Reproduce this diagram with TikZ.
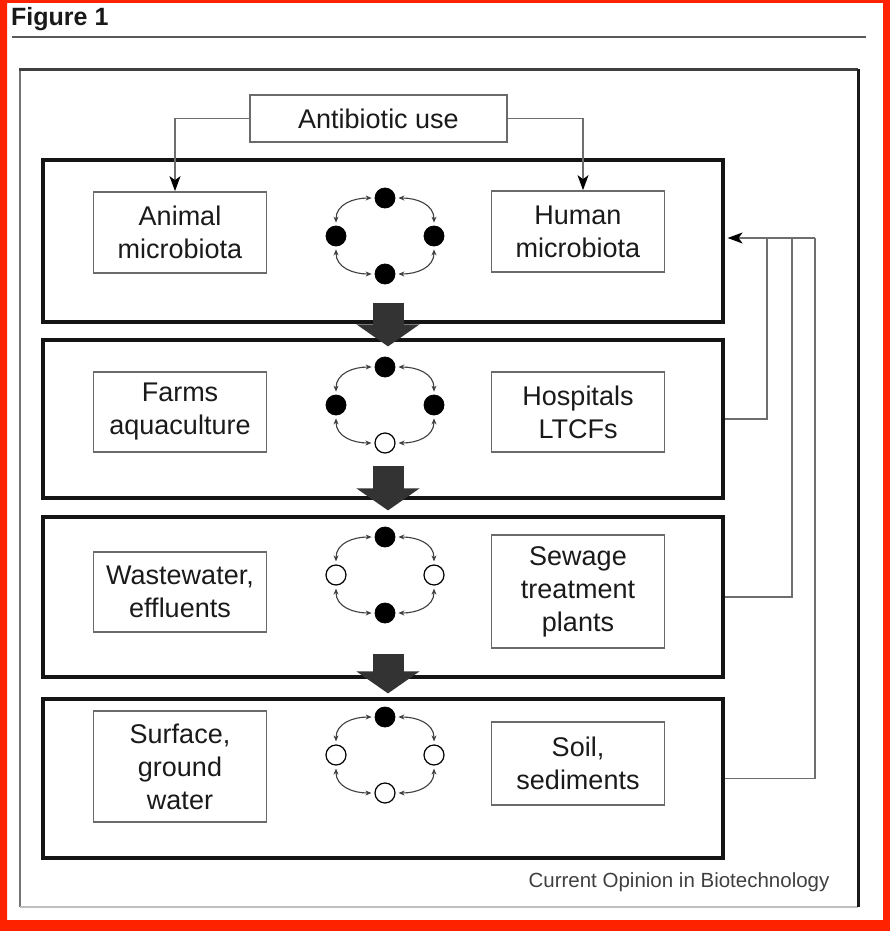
\documentclass[tikz,border=0pt]{standalone}
\usepackage{fontspec}
\setmainfont{Liberation Sans}
\usetikzlibrary{arrows.meta,calc}

\definecolor{edgered}{RGB}{255,34,0}
\definecolor{boxgray}{HTML}{6A6A6A}
\definecolor{linegray}{HTML}{6E6E6E}
\definecolor{arrowfill}{HTML}{333333}
\definecolor{inktext}{HTML}{1A1A1A}

% one transmission cycle: four reservoirs joined by two-way arcs
\newcommand{\cyclering}[6]{%
  \node[#3] (#1t) at ($(#2)+(0,-38)$) {};
  \node[#4] (#1l) at ($(#2)+(-49,0)$) {};
  \node[#5] (#1r) at ($(#2)+(49,0)$) {};
  \node[#6] (#1b) at ($(#2)+(0,38)$) {};
  \draw[ringarc] (#1t) to[out=180,in=90] (#1l);
  \draw[ringarc] (#1l) to[out=-90,in=180] (#1b);
  \draw[ringarc] (#1b) to[out=0,in=-90] (#1r);
  \draw[ringarc] (#1r) to[out=90,in=0] (#1t);
}

\begin{document}
\begin{tikzpicture}[x=1pt,y=-1pt,
  panel/.style={draw=black!92, line width=3.2pt, minimum width=680pt, inner sep=0pt},
  tbox/.style={draw=boxgray, line width=1.7pt, minimum width=173pt, inner sep=0pt,
    align=center, text=inktext, font=\fontsize{27}{33}\selectfont},
  fulldot/.style={circle, fill=black, draw=black, line width=0.8pt, minimum size=20pt, inner sep=0pt},
  opendot/.style={circle, fill=white, draw=black, line width=1.2pt, minimum size=20pt, inner sep=0pt},
  ringarc/.style={draw=black!75, line width=1.1pt, looseness=1.15, shorten <=3pt, shorten >=3pt,
    {Stealth[length=6pt,width=5pt]}-{Stealth[length=6pt,width=5pt]}},
  conn/.style={draw=linegray, line width=1.6pt},
  connarrow/.style={conn, -{Stealth[length=15pt,width=11pt,inset=4pt,color=black]}},
  bigarrow/.style={draw=arrowfill, line width=31pt,
    -{Triangle[length=22pt,width=62pt,color=arrowfill]}},
]
% page area and red edge
\useasboundingbox (0,0) rectangle (890,931);
\fill[white] (0,0) rectangle (890,931);
\fill[edgered, even odd rule] (0,0) rectangle (890,931) (7,3) rectangle (883,920);

% heading and rule
\node[anchor=base west, inner sep=0pt, text=black!90,
  font=\bfseries\fontsize{25}{28}\selectfont] (figlabel) at (11,26) {Figure 1};
\draw[line width=2.6pt, color=black!65] (12,37) -- (866,37);

% outer frame
\draw[line width=2pt, color=black!55] (20,70) -- (20,907);
\draw[line width=1.4pt, color=black!25] (20,907) -- (858,907);
\draw[line width=3pt, color=black!75] (19,70) -- (858,70);
\draw[line width=3pt, color=black!90] (858,69) -- (858,907);

% four stages
\node[panel, minimum height=162pt] (p1) at (383,241) {};
\node[panel, minimum height=158pt] (p2) at (383,419) {};
\node[panel, minimum height=160pt] (p3) at (383,597) {};
\node[panel, minimum height=159pt] (p4) at (383,778.5) {};

% source
\node[tbox, minimum width=257pt, minimum height=47pt] (abx) at (378.5,118.5) {Antibiotic use};

% reservoirs
\node[tbox, minimum height=81pt] (animal) at (180,232.5) {Animal\\microbiota};
\node[tbox, minimum height=81pt] (human) at (578,231.5) {Human\\microbiota};
\node[tbox, minimum height=80pt] (farms) at (180,412) {Farms\\aquaculture};
\node[tbox, minimum height=80pt] (hosp) at (578,412) {Hospitals\\LTCFs};
\node[tbox, minimum height=80pt] (waste) at (180,592) {Wastewater,\\effluents};
\node[tbox, minimum height=113pt] (sewage) at (578,591.5) {Sewage\\treatment\\plants};
\node[tbox, minimum height=111pt] (surface) at (180,766.5) {Surface,\\ground\\water};
\node[tbox, minimum height=83pt] (soil) at (578,763.5) {Soil,\\sediments};

% exchange cycles
\coordinate (c1) at (385,236);
\coordinate (c2) at (385,405);
\coordinate (c3) at (385,575);
\coordinate (c4) at (385,755);
\cyclering{ra}{c1}{fulldot}{fulldot}{fulldot}{fulldot}
\cyclering{rb}{c2}{fulldot}{fulldot}{fulldot}{opendot}
\cyclering{rc}{c3}{fulldot}{opendot}{opendot}{fulldot}
\cyclering{rd}{c4}{fulldot}{opendot}{opendot}{opendot}

% antibiotic pressure on both microbiota
\draw[connarrow] (abx.west) -| ($(animal.north)+(-5,0)$);
\draw[connarrow] (abx.east) -| ($(human.north)+(5,0)$);

% flow from stage to stage
\draw[bigarrow] ($(p1.south)+(5,-21)$) -- ($(p2.north)+(5,8)$);
\draw[bigarrow] ($(p2.south)+(5,-34)$) -- ($(p3.north)+(5,-5)$);
\draw[bigarrow] ($(p3.south)+(5,-25)$) -- ($(p4.north)+(5,-4)$);

% return paths back to human microbiota
\coordinate (j2) at (767,238);
\coordinate (j3) at (792,238);
\coordinate (j4) at (815,238);
\draw[conn] (p2.east) -| (j2);
\draw[conn] (p3.east) -| (j3);
\draw[conn] (p4.east) -| (j4);
\draw[connarrow] (j4) -- ($(p1.east)+(3,-3)$);

% credit line
\node[anchor=base, inner sep=0pt, text=black!75,
  font=\fontsize{20.5}{24}\selectfont] (credit) at (679,887) {Current Opinion in Biotechnology};
\end{tikzpicture}
\end{document}
